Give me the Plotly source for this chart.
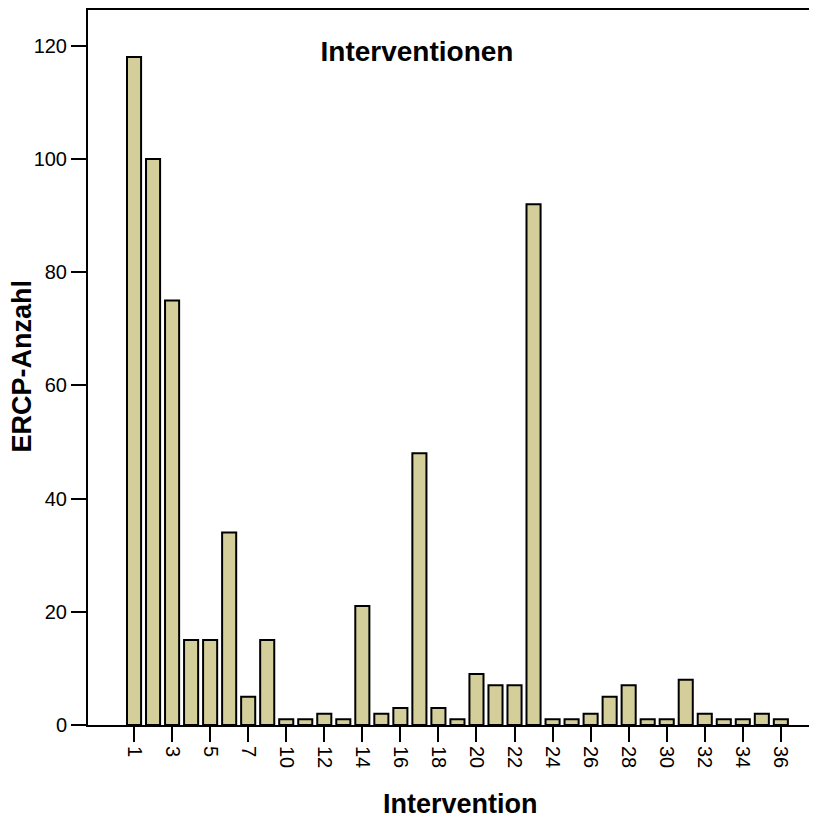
import plotly.graph_objects as go

categories = [1, 2, 3, 4, 5, 6, 7, 9, 10, 11, 12, 13, 14, 15, 16, 17, 18, 19,
              20, 21, 22, 23, 24, 25, 26, 27, 28, 29, 30, 31, 32, 33, 34, 35, 36]
counts = [118, 100, 75, 15, 15, 34, 5, 15, 1, 1, 2, 1, 21, 2, 3, 48, 3, 1,
          9, 7, 7, 92, 1, 1, 2, 5, 7, 1, 1, 8, 2, 1, 1, 2, 1]
y_ticks = [0, 20, 40, 60, 80, 100, 120]

positions = list(range(len(categories)))
tick_pos = positions[::2]
tick_text = [str(categories[i]) for i in tick_pos]

FONT = "Liberation Sans, Arial, sans-serif"

fig = go.Figure(go.Bar(
    x=positions, y=counts, width=0.74,
    marker=dict(color="#D4CF9A", line=dict(color="black", width=2)),
    hovertext=[str(c) for c in categories],
))

# page body has an 8px margin, so the figure is sized/offset to compensate
fig.update_layout(
    width=809, height=813,
    margin=dict(l=80, r=0, t=0, b=96),
    paper_bgcolor="white", plot_bgcolor="white",
    showlegend=False,
    font=dict(family=FONT, color="black"),
    title=dict(text="<b>Interventionen</b>", font=dict(size=28, family=FONT, color="black"),
               x=(417 - 88) / 729, xref="paper", xanchor="center",
               y=1 - 43 / 813, yref="container", yanchor="middle"),
    xaxis=dict(range=[-2.42, 35.9], tickmode="array", tickvals=tick_pos, ticktext=tick_text,
               tickangle=90, ticks="outside", ticklen=15, tickwidth=2, tickcolor="black",
               showline=True, linecolor="black", linewidth=2, mirror=True,
               showgrid=False, zeroline=False, tickfont=dict(size=20, family=FONT)),
    yaxis=dict(range=[0, 126.3], tickvals=y_ticks, ticks="outside", ticklen=15, tickwidth=2,
               tickcolor="black", showline=True, linecolor="black", linewidth=2,
               showgrid=False, zeroline=False, tickfont=dict(size=20, family=FONT)),
    annotations=[
        dict(text="<b>Intervention</b>", xref="paper", yref="paper",
             x=(460 - 88) / 729, y=(725 - 804) / 717, xanchor="center", yanchor="middle",
             showarrow=False, font=dict(size=27, family=FONT, color="black")),
        dict(text="<b>ERCP-Anzahl</b>", xref="paper", yref="paper",
             x=(22.5 - 88) / 729, y=(725 - 365) / 717, xanchor="center", yanchor="middle",
             textangle=-90, showarrow=False, font=dict(size=27, family=FONT, color="black")),
    ],
)

fig.write_html("out.html")
